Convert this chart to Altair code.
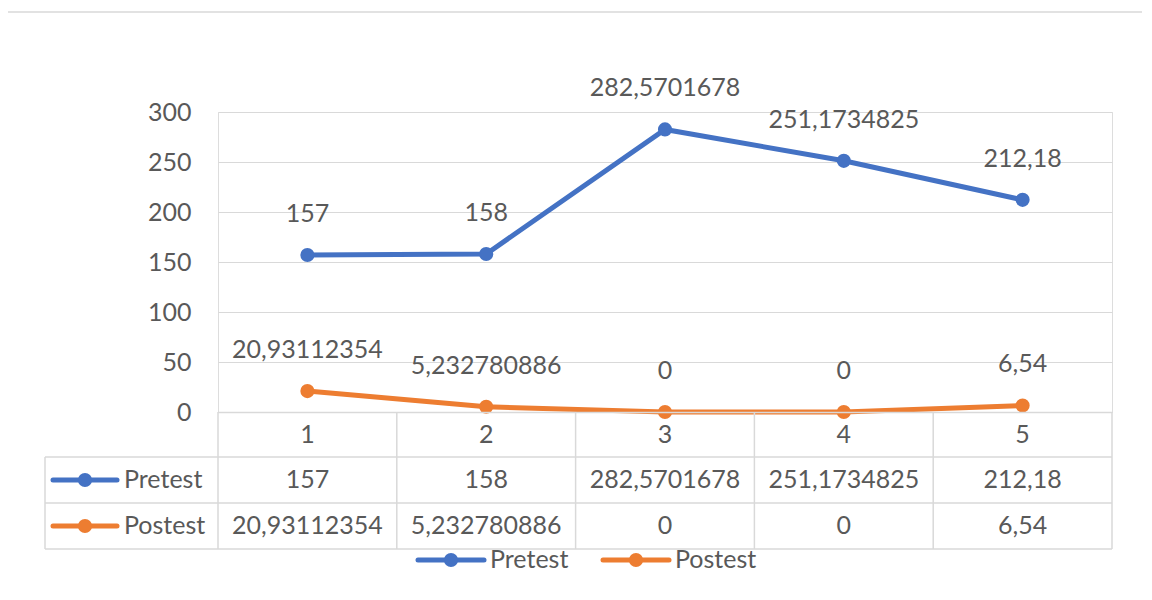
import altair as alt
import pandas as pd

categories = [1, 2, 3, 4, 5]
series = ["Pretest", "Postest"]
pretest = [157, 158, 282.5701678, 251.1734825, 212.18]
postest = [20.93112354, 5.232780886, 0, 0, 6.54]
pretest_labels = ["157", "158", "282,5701678", "251,1734825", "212,18"]
postest_labels = ["20,93112354", "5,232780886", "0", "0", "6,54"]
y_ticks = [0, 50, 100, 150, 200, 250, 300]
colors = ["#4472C4", "#ED7D31"]

FONT = "Lato"
FS = 25
TXT = "#595959"
GRID = "#D9D9D9"
W, H = 894, 300

rows = []
for s, vals, labs in [("Pretest", pretest, pretest_labels), ("Postest", postest, postest_labels)]:
    for c, v, l in zip(categories, vals, labs):
        rows.append({"category": c, "series": s, "value": v, "label": l})
df = pd.DataFrame(rows)
cat_df = pd.DataFrame({"category": categories, "label": [str(c) for c in categories]})
one = pd.DataFrame({"a": [0]})

xs = alt.X("category:Q", scale=alt.Scale(domain=[0.5, 5.5]), axis=None)
color = alt.Color("series:N", scale=alt.Scale(domain=series, range=colors), legend=None)

base = alt.Chart(df)

line = base.mark_line(strokeWidth=5).encode(
    x=xs,
    y=alt.Y("value:Q", scale=alt.Scale(domain=[0, 300]),
            axis=alt.Axis(values=y_ticks, grid=True, gridColor=GRID, gridWidth=1,
                          domain=False, ticks=False, labelFontSize=FS, labelFont=FONT,
                          labelColor=TXT, labelPadding=27, title=None)),
    color=color,
    detail="series:N",
)
pts = base.mark_point(filled=True, size=200, opacity=1).encode(x=xs, y="value:Q", color=color)
labels = base.mark_text(dy=-41, fontSize=FS, font=FONT, color=TXT).encode(
    x=xs, y="value:Q", text="label:N")

layers = [line, pts, labels]

# outer chart border
layers.append(alt.Chart(one).mark_rect(fill=None, stroke=GRID, strokeWidth=1.5).encode(
    x=alt.value(-211), x2=alt.value(1000), y=alt.value(-100), y2=alt.value(600)))

# data table grid
step = W / len(categories)
row_edges = [300, 345, 391, 437]
left = -173
for yy in row_edges[1:]:
    layers.append(alt.Chart(one).mark_rule(color=GRID, strokeWidth=1.5).encode(
        x=alt.value(left), x2=alt.value(W), y=alt.value(yy)))
layers.append(alt.Chart(one).mark_rule(color=GRID, strokeWidth=1.5).encode(
    x=alt.value(0), x2=alt.value(W), y=alt.value(row_edges[0] + 0.5)))
layers.append(alt.Chart(one).mark_rule(color=GRID, strokeWidth=1.5).encode(
    x=alt.value(left), y=alt.value(row_edges[1]), y2=alt.value(row_edges[3])))
for i in range(len(categories) + 1):
    layers.append(alt.Chart(one).mark_rule(color=GRID, strokeWidth=1.5).encode(
        x=alt.value(i * step), y=alt.value(row_edges[0]), y2=alt.value(row_edges[3])))

# table text
row_centers = [(row_edges[i] + row_edges[i + 1]) / 2 for i in range(3)]
layers.append(alt.Chart(cat_df).mark_text(fontSize=FS, font=FONT, color=TXT).encode(
    x=xs, y=alt.value(row_centers[0]), text="label:N"))
for k, s in enumerate(series):
    layers.append(alt.Chart(df[df.series == s]).mark_text(fontSize=FS, font=FONT, color=TXT).encode(
        x=xs, y=alt.value(row_centers[k + 1]), text="label:N"))
    # legend key in table
    layers.append(alt.Chart(one).mark_rule(color=colors[k], strokeWidth=5, strokeCap="round").encode(
        x=alt.value(-165), x2=alt.value(-101), y=alt.value(row_centers[k + 1])))
    layers.append(alt.Chart(one).mark_point(filled=True, size=200, opacity=1, color=colors[k]).encode(
        x=alt.value(-133), y=alt.value(row_centers[k + 1])))
    layers.append(alt.Chart(one).mark_text(fontSize=FS, font=FONT, color=TXT, align="left").encode(
        x=alt.value(-94), y=alt.value(row_centers[k + 1]), text=alt.value(s)))

# bottom legend
leg_y = 448
leg_x = [200, 385]
for k, s in enumerate(series):
    x0 = leg_x[k]
    layers.append(alt.Chart(one).mark_rule(color=colors[k], strokeWidth=5, strokeCap="round").encode(
        x=alt.value(x0), x2=alt.value(x0 + 66), y=alt.value(leg_y)))
    layers.append(alt.Chart(one).mark_point(filled=True, size=200, opacity=1, color=colors[k]).encode(
        x=alt.value(x0 + 33), y=alt.value(leg_y)))
    layers.append(alt.Chart(one).mark_text(fontSize=FS, font=FONT, color=TXT, align="left").encode(
        x=alt.value(x0 + 72), y=alt.value(leg_y), text=alt.value(s)))

chart = alt.layer(*layers).properties(
    width=W, height=H,
    autosize=alt.AutoSizeParams(type="none"),
    padding={"left": 210, "top": 104, "right": 30, "bottom": 178},
).configure_view(stroke=None).configure(background="white")

chart.save("out.html", embed_options={"renderer": "svg", "actions": False})
